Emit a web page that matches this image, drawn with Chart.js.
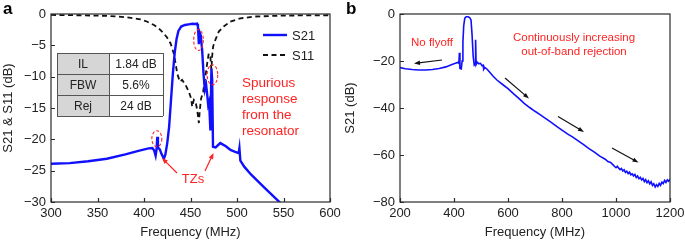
<!DOCTYPE html>
<html><head><meta charset="utf-8">
<script src="https://cdn.jsdelivr.net/npm/chart.js@4.4.1/dist/chart.umd.min.js"></script>
<style>
html,body{margin:0;padding:0;background:#fff;}
#wrap{position:relative;width:685px;height:241px;overflow:hidden;}
canvas{position:absolute;top:0;}
</style>
</head><body>
<div id="wrap">
<canvas id="ca" width="342" height="241" style="left:0"></canvas>
<canvas id="cb" width="343" height="241" style="left:342px"></canvas>
</div>
<script>
// ---------- Panel a data ----------
const aFreqS21 = [300,320,340,360,380,395,405,409,411,412.5,413.5,414.3,415,417,419,421.4,423,425,427,429,431,433,435,437,440,444,448,452,455,457,458,459,460,461,462.5,464,465.4,466.8,467.9,469,470,471.4,472.5,473.3,474.2,477,482,488,493,498,501.8,502.6,503.6,508,515,530,547,552];
const aS21    = [-23.9,-23.8,-23.5,-23.1,-22.4,-21.8,-21.45,-21.4,-21.8,-22.6,-21.6,-19.6,-21.3,-21.6,-22.4,-23.1,-22.4,-20.6,-18.0,-13.8,-9.6,-6.2,-4.0,-2.7,-2.0,-1.75,-1.65,-1.55,-1.6,-1.55,-2.0,-4.8,-3.0,-3.4,-5.7,-9.5,-12.1,-11.3,-12.8,-14.5,-14.0,-18.6,-8.7,-10.5,-21.2,-21.3,-20.6,-21.1,-21.7,-22.0,-22.2,-21.4,-23.4,-24.4,-25.6,-27.8,-30.2,-31];
const aFreqS11 = [300,330,360,380,389,396,403,410.7,416,421.4,425,428.6,432,434,435.7,438.6,441,444.6,448.2,450.7,451.8,453.6,455.4,457.2,459,460,461.4,463.6,466,467.9,469.6,471.4,472.5,473.2,474.3,476.8,480.4,485.7,492.9,503.6,520,550,600];
const aS11    = [-0.15,-0.2,-0.3,-0.5,-0.7,-0.85,-1.2,-1.75,-2.3,-3.1,-3.8,-4.7,-6.3,-7.9,-9.5,-10.8,-10.5,-11.3,-12.4,-13.5,-14.8,-13.7,-14.0,-15.3,-17.4,-15.3,-13.5,-12.4,-10.0,-7.9,-6.3,-6.9,-8.9,-6.9,-5.2,-4.1,-2.8,-2.0,-1.2,-0.7,-0.4,-0.25,-0.2];
const aXTicks = [300,350,400,450,500,550,600];
const aYTicks = [0,-5,-10,-15,-20,-25,-30];
const aSeriesNames = ['S21','S11'];
const aTableRows = [['IL','1.84 dB'],['FBW','5.6%'],['Rej','24 dB']];

// ---------- Panel b data ----------
const bFreq = [200,220,245,270,295,320,345,370,390,405,414,418,420,422,427,430,433,436,440,445,452,458,463,467,471,475,478,480,482,486,492,498,504,508,510,514,520,530,545,560,580,600,620,640,660,680,700,720,740,760,780,800,820,840,860,880,900,920,940,960,970,980,990,995,1000,1005,1010,1015,1020,1025,1030,1035,1040,1045,1050,1055,1060,1065,1070,1075,1080,1085,1090,1095,1100,1105,1110,1115,1120,1125,1130,1135,1140,1145,1150,1155,1160,1165,1170,1175,1180,1185,1190,1195,1200];
const bS21  = [-22.8,-23.3,-23.6,-23.8,-23.8,-23.6,-23.2,-22.5,-21.6,-21.0,-20.6,-21.0,-16.5,-23.2,-23.4,-20.0,-12.0,-5.0,-1.8,-1.2,-1.2,-1.5,-2.5,-9.0,-18.0,-21.8,-21.5,-11.0,-21.5,-20.5,-21.2,-21.0,-22.0,-21.8,-23.5,-22.8,-23.2,-24.5,-26.5,-28.2,-30.0,-31.8,-33.9,-35.9,-38.0,-39.8,-41.4,-42.9,-44.5,-46.1,-47.8,-49.4,-51.0,-52.4,-54.0,-55.6,-57.3,-58.8,-60.5,-61.8,-62.8,-63.2,-64.3,-64.9,-65.4,-64.8,-65.6,-66.2,-65.7,-66.8,-66.3,-67.4,-66.9,-67.9,-67.3,-68.4,-68.0,-68.9,-68.3,-69.6,-68.9,-70.1,-69.5,-70.6,-70.0,-71.3,-70.5,-71.8,-71.0,-72.3,-71.4,-72.9,-72.2,-73.6,-72.6,-73.4,-72.1,-72.9,-71.6,-72.2,-70.8,-71.7,-70.6,-71.2,-70.3];
const bXTicks = [200,400,600,800,1000,1200];
const bYTicks = [0,-20,-40,-60,-80];

// ---------- helpers ----------
Chart.defaults.font.family = '"Liberation Sans", Arial, Helvetica, sans-serif';
Chart.defaults.color = '#222';
const BLUE = '#1010ff', RED = '#ff2424';
const fmt = v => v < 0 ? '\u2212' + Math.abs(v) : String(v);
const pts = (xs, ys) => xs.map((x, i) => ({x, y: ys[i]}));

function arrow(ctx, x1, y1, x2, y2, color, head = 7, half = 2.6, lw = 1.3) {
  const ang = Math.atan2(y2 - y1, x2 - x1);
  ctx.save();
  ctx.strokeStyle = color; ctx.fillStyle = color; ctx.lineWidth = lw; ctx.setLineDash([]);
  ctx.beginPath(); ctx.moveTo(x1, y1);
  ctx.lineTo(x2 - Math.cos(ang) * head * 0.8, y2 - Math.sin(ang) * head * 0.8); ctx.stroke();
  ctx.beginPath(); ctx.moveTo(x2, y2);
  ctx.lineTo(x2 - Math.cos(ang) * head - Math.sin(ang) * half, y2 - Math.sin(ang) * head + Math.cos(ang) * half);
  ctx.lineTo(x2 - Math.cos(ang) * head + Math.sin(ang) * half, y2 - Math.sin(ang) * head - Math.cos(ang) * half);
  ctx.closePath(); ctx.fill();
  ctx.restore();
}

const framePlugin = {
  id: 'frame',
  afterDraw(chart) {
    const {ctx, chartArea: a, scales: {x, y}} = chart;
    ctx.save();
    ctx.strokeStyle = '#2a2a2a'; ctx.lineWidth = 1.2; ctx.setLineDash([]);
    ctx.strokeRect(a.left, a.top, a.right - a.left, a.bottom - a.top);
    ctx.beginPath();
    x.ticks.forEach(t => { const p = Math.round(x.getPixelForValue(t.value)) + 0.5; ctx.moveTo(p, a.bottom); ctx.lineTo(p, a.bottom - 4); });
    y.ticks.forEach(t => { const p = Math.round(y.getPixelForValue(t.value)) + 0.5; ctx.moveTo(a.left, p); ctx.lineTo(a.left + 4, p); });
    ctx.stroke();
    ctx.restore();
  }
};

function baseOptions(xMin, xMax, xTicks, yMin, yMax, yTicks, yTitle, yWidth, padRight) {
  return {
    responsive: false, animation: false, devicePixelRatio: 1,
    layout: {padding: {left: 0, right: padRight, top: 14, bottom: 0}},
    plugins: {legend: {display: false}, tooltip: {enabled: false}},
    elements: {point: {radius: 0}, line: {tension: 0}},
    scales: {
      x: {type: 'linear', min: xMin, max: xMax,
          afterBuildTicks: s => { s.ticks = xTicks.map(v => ({value: v})); },
          afterFit: s => { s.height = 39; s.paddingLeft = 0; s.paddingRight = 0; },
          grid: {display: false, drawTicks: false}, border: {display: false},
          ticks: {font: {size: 13}, color: '#222', padding: 4, maxRotation: 0, autoSkip: false, callback: v => fmt(v)},
          title: {display: true, text: 'Frequency (MHz)', font: {size: 13}, color: '#222', padding: {top: 0, bottom: 1}}},
      y: {type: 'linear', min: yMin, max: yMax,
          afterBuildTicks: s => { s.ticks = yTicks.map(v => ({value: v})); },
          afterFit: s => { s.width = yWidth; s.paddingTop = 0; s.paddingBottom = 0; },
          grid: {display: false, drawTicks: false}, border: {display: false},
          ticks: {font: {size: 13}, color: '#222', padding: 5, autoSkip: false, callback: v => fmt(v)},
          title: {display: true, text: yTitle, font: {size: 13}, color: '#222', padding: {top: 1, bottom: 0}}}
    }
  };
}

// ---------- Panel a ----------
const annotA = {
  id: 'annotA',
  afterDraw(chart) {
    const {ctx, scales: {x, y}} = chart;
    ctx.save();
    ctx.fillStyle = '#000'; ctx.font = 'bold 17px "Liberation Sans", Arial, sans-serif';
    ctx.textBaseline = 'alphabetic'; ctx.textAlign = 'left'; ctx.fillText('a', 3, 14);
    const ds = chart.data.datasets;
    ctx.font = '13px "Liberation Sans", Arial, sans-serif'; ctx.textBaseline = 'middle'; ctx.fillStyle = '#222';
    [[35, ds[0]], [55, ds[1]]].forEach(([ly, d]) => {
      ctx.save(); ctx.strokeStyle = d.borderColor; ctx.lineWidth = d.borderWidth; ctx.setLineDash(d.borderDash || []);
      ctx.beginPath(); ctx.moveTo(263, ly); ctx.lineTo(287, ly); ctx.stroke(); ctx.restore();
      ctx.fillText(d.label, 292, ly + 1);
    });
    const tx0 = 57, tx1 = 109, tx2 = 163, ty = [53, 74, 95, 116];
    ctx.fillStyle = '#d6d6d6'; ctx.fillRect(tx0, ty[0], tx1 - tx0, ty[3] - ty[0]);
    ctx.fillStyle = '#fff'; ctx.fillRect(tx1, ty[0], tx2 - tx1, ty[3] - ty[0]);
    ctx.strokeStyle = '#555'; ctx.lineWidth = 1;
    ctx.beginPath();
    ty.forEach(v => { ctx.moveTo(tx0, v + 0.5); ctx.lineTo(tx2, v + 0.5); });
    [tx0, tx1, tx2].forEach(v => { ctx.moveTo(v + 0.5, ty[0]); ctx.lineTo(v + 0.5, ty[3]); });
    ctx.stroke();
    ctx.fillStyle = '#222'; ctx.font = '12px "Liberation Sans", Arial, sans-serif'; ctx.textAlign = 'center';
    aTableRows.forEach((r, i) => {
      const cy = (ty[i] + ty[i + 1]) / 2 + 1;
      ctx.fillText(r[0], (tx0 + tx1) / 2, cy); ctx.fillText(r[1], (tx1 + tx2) / 2, cy);
    });
    ctx.strokeStyle = RED; ctx.lineWidth = 1.1; ctx.setLineDash([3, 2]);
    [[413.8, -19.9, 5, 8], [458.6, -4.15, 4.8, 10.5], [473.6, -9.7, 5.3, 10]].forEach(([f, d, rx, ry]) => {
      ctx.beginPath(); ctx.ellipse(x.getPixelForValue(f), y.getPixelForValue(d), rx, ry, 0, 0, Math.PI * 2); ctx.stroke();
    });
    ctx.setLineDash([]);
    ctx.fillStyle = RED; ctx.font = '13.5px "Liberation Sans", Arial, sans-serif'; ctx.textAlign = 'left'; ctx.textBaseline = 'middle';
    ['Spurious', 'response', 'from the', 'resonator'].forEach((t, i) => ctx.fillText(t, 242, 83 + i * 16));
    ctx.textAlign = 'center'; ctx.font = '13px "Liberation Sans", Arial, sans-serif';
    ctx.fillText('TZs', 193, 179);
    arrow(ctx, 177, 173, 162, 158, RED, 6, 2.4, 1.2);
    arrow(ctx, 205, 171, 213.5, 153, RED, 6, 2.4, 1.2);
    ctx.restore();
  }
};

new Chart(document.getElementById('ca'), {
  type: 'line',
  data: {datasets: [
    {label: aSeriesNames[0], data: pts(aFreqS21, aS21), borderColor: BLUE, borderWidth: 2.4, fill: false},
    {label: aSeriesNames[1], data: pts(aFreqS11, aS11), borderColor: '#111', borderWidth: 1.8, borderDash: [5, 3.5], fill: false}
  ]},
  options: baseOptions(300, 600, aXTicks, -30, 0, aYTicks, 'S21 & S11 (dB)', 51, 12),
  plugins: [framePlugin, annotA]
});

// ---------- Panel b ----------
const annotB = {
  id: 'annotB',
  afterDraw(chart) {
    const {ctx} = chart;
    ctx.save();
    ctx.fillStyle = '#000'; ctx.font = 'bold 17px "Liberation Sans", Arial, sans-serif';
    ctx.textBaseline = 'alphabetic'; ctx.textAlign = 'left'; ctx.fillText('b', 4, 14);
    ctx.fillStyle = RED; ctx.font = '11.5px "Liberation Sans", Arial, sans-serif'; ctx.textBaseline = 'middle'; ctx.textAlign = 'center';
    ctx.fillText('No flyoff', 90, 43);
    ctx.fillText('Continuously increasing', 232, 38);
    ctx.fillText('out-of-band rejection', 232, 52);
    arrow(ctx, 100, 60, 72, 63.5, '#111', 6, 2.2, 1.2);
    arrow(ctx, 163, 78, 187, 98.5, '#111', 6, 2.2, 1.2);
    arrow(ctx, 216, 116.5, 242, 132, '#111', 6, 2.2, 1.2);
    arrow(ctx, 270, 148, 296.5, 162.5, '#111', 6, 2.2, 1.2);
    ctx.restore();
  }
};

new Chart(document.getElementById('cb'), {
  type: 'line',
  data: {datasets: [
    {label: 'S21', data: pts(bFreq, bS21), borderColor: BLUE, borderWidth: 1.6, fill: false}
  ]},
  options: baseOptions(200, 1200, bXTicks, -80, 0, bYTicks, 'S21 (dB)', 58, 15),
  plugins: [framePlugin, annotB]
});
</script>
</body></html>
